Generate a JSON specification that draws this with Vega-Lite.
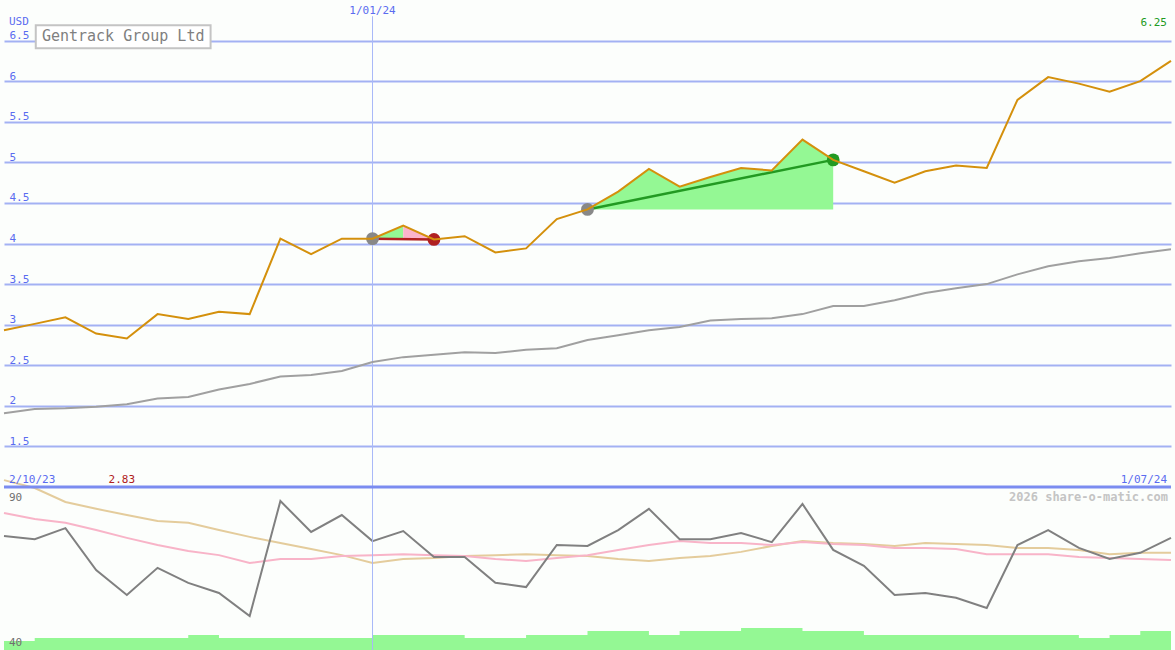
{
  "$schema": "https://vega.github.io/schema/vega-lite/v6.json",
  "width": 1175,
  "height": 650,
  "padding": 0,
  "autosize": {"type": "fit", "contains": "padding"},
  "background": "#fcfefc",
  "config": {"view": {"stroke": null}},
  "resolve": {"scale": {"y": "independent"}},
  "datasets": {
    "w": [
      {"d": "2023-10-09", "price": 2.93, "ma": 1.91, "osc": 75.0, "sig1": 82.0, "sig2": 92.1, "vol": 9},
      {"d": "2023-10-16", "price": 3.01, "ma": 1.96, "osc": 74.0, "sig1": 80.2, "sig2": 89.7, "vol": 12},
      {"d": "2023-10-23", "price": 3.09, "ma": 1.97, "osc": 77.4, "sig1": 79.0, "sig2": 85.4, "vol": 12},
      {"d": "2023-10-30", "price": 2.89, "ma": 1.99, "osc": 64.5, "sig1": 76.8, "sig2": 83.3, "vol": 12},
      {"d": "2023-11-06", "price": 2.83, "ma": 2.02, "osc": 56.9, "sig1": 74.4, "sig2": 81.4, "vol": 12},
      {"d": "2023-11-13", "price": 3.13, "ma": 2.09, "osc": 65.2, "sig1": 72.2, "sig2": 79.6, "vol": 12},
      {"d": "2023-11-20", "price": 3.07, "ma": 2.11, "osc": 60.6, "sig1": 70.4, "sig2": 79.0, "vol": 15},
      {"d": "2023-11-27", "price": 3.16, "ma": 2.20, "osc": 57.5, "sig1": 69.1, "sig2": 76.8, "vol": 12},
      {"d": "2023-12-04", "price": 3.13, "ma": 2.27, "osc": 50.4, "sig1": 66.7, "sig2": 74.7, "vol": 12},
      {"d": "2023-12-11", "price": 4.06, "ma": 2.36, "osc": 85.7, "sig1": 67.9, "sig2": 72.8, "vol": 12},
      {"d": "2023-12-18", "price": 3.87, "ma": 2.38, "osc": 76.2, "sig1": 67.9, "sig2": 71.0, "vol": 12},
      {"d": "2023-12-25", "price": 4.06, "ma": 2.43, "osc": 81.4, "sig1": 68.8, "sig2": 69.1, "vol": 12},
      {"d": "2024-01-01", "price": 4.06, "ma": 2.54, "osc": 73.4, "sig1": 69.1, "sig2": 66.7, "vol": 15},
      {"d": "2024-01-08", "price": 4.22, "ma": 2.60, "osc": 76.5, "sig1": 69.4, "sig2": 67.9, "vol": 15},
      {"d": "2024-01-15", "price": 4.05, "ma": 2.63, "osc": 68.5, "sig1": 69.1, "sig2": 68.2, "vol": 15},
      {"d": "2024-01-22", "price": 4.09, "ma": 2.66, "osc": 68.5, "sig1": 68.8, "sig2": 68.8, "vol": 12},
      {"d": "2024-01-29", "price": 3.89, "ma": 2.65, "osc": 60.6, "sig1": 67.9, "sig2": 69.1, "vol": 12},
      {"d": "2024-02-05", "price": 3.94, "ma": 2.69, "osc": 59.3, "sig1": 67.3, "sig2": 69.4, "vol": 15},
      {"d": "2024-02-12", "price": 4.30, "ma": 2.71, "osc": 72.2, "sig1": 68.2, "sig2": 69.1, "vol": 15},
      {"d": "2024-02-19", "price": 4.42, "ma": 2.81, "osc": 71.9, "sig1": 69.1, "sig2": 68.8, "vol": 19},
      {"d": "2024-02-26", "price": 4.64, "ma": 2.87, "osc": 76.8, "sig1": 70.7, "sig2": 67.9, "vol": 19},
      {"d": "2024-03-04", "price": 4.92, "ma": 2.93, "osc": 83.3, "sig1": 72.2, "sig2": 67.3, "vol": 15},
      {"d": "2024-03-11", "price": 4.70, "ma": 2.97, "osc": 74.0, "sig1": 73.4, "sig2": 68.2, "vol": 19},
      {"d": "2024-03-18", "price": 4.82, "ma": 3.05, "osc": 74.0, "sig1": 72.8, "sig2": 68.8, "vol": 19},
      {"d": "2024-03-25", "price": 4.93, "ma": 3.07, "osc": 75.9, "sig1": 72.8, "sig2": 70.1, "vol": 22},
      {"d": "2024-04-01", "price": 4.90, "ma": 3.08, "osc": 73.1, "sig1": 72.2, "sig2": 71.9, "vol": 22},
      {"d": "2024-04-08", "price": 5.28, "ma": 3.13, "osc": 84.8, "sig1": 73.1, "sig2": 73.4, "vol": 19},
      {"d": "2024-04-15", "price": 5.03, "ma": 3.23, "osc": 70.7, "sig1": 72.5, "sig2": 72.8, "vol": 19},
      {"d": "2024-04-22", "price": 4.89, "ma": 3.23, "osc": 65.8, "sig1": 72.2, "sig2": 72.5, "vol": 15},
      {"d": "2024-04-29", "price": 4.75, "ma": 3.30, "osc": 56.9, "sig1": 71.3, "sig2": 71.9, "vol": 15},
      {"d": "2024-05-06", "price": 4.89, "ma": 3.39, "osc": 57.5, "sig1": 71.3, "sig2": 72.8, "vol": 15},
      {"d": "2024-05-13", "price": 4.96, "ma": 3.45, "osc": 56.0, "sig1": 71.0, "sig2": 72.5, "vol": 15},
      {"d": "2024-05-20", "price": 4.93, "ma": 3.50, "osc": 52.9, "sig1": 69.4, "sig2": 72.2, "vol": 15},
      {"d": "2024-05-27", "price": 5.77, "ma": 3.62, "osc": 72.2, "sig1": 69.4, "sig2": 71.3, "vol": 15},
      {"d": "2024-06-03", "price": 6.05, "ma": 3.72, "osc": 76.8, "sig1": 69.4, "sig2": 71.3, "vol": 15},
      {"d": "2024-06-10", "price": 5.97, "ma": 3.78, "osc": 71.3, "sig1": 68.5, "sig2": 70.7, "vol": 12},
      {"d": "2024-06-17", "price": 5.87, "ma": 3.82, "osc": 67.9, "sig1": 68.2, "sig2": 69.4, "vol": 15},
      {"d": "2024-06-24", "price": 6.00, "ma": 3.88, "osc": 69.8, "sig1": 67.9, "sig2": 69.8, "vol": 19},
      {"d": "2024-07-01", "price": 6.25, "ma": 3.93, "osc": 74.4, "sig1": 67.6, "sig2": 69.8, "vol": 19}
    ],
    "tr": [
      {"d": "2024-01-01", "p": 4.06, "t": "loss"},
      {"d": "2024-01-15", "p": 4.05, "t": "loss"},
      {"d": "2024-02-19", "p": 4.42, "t": "gain"},
      {"d": "2024-04-15", "p": 5.03, "t": "gain"}
    ],
    "pts": [
      {"d": "2024-01-01", "p": 4.06, "k": "entry"},
      {"d": "2024-01-15", "p": 4.05, "k": "loss"},
      {"d": "2024-02-19", "p": 4.42, "k": "entry"},
      {"d": "2024-04-15", "p": 5.03, "k": "gain"}
    ],
    "one": [{}]
  },
  "layer": [
    {
      "data": {"name": "w"},
      "mark": {"type": "area", "interpolate": "step-after", "color": "#94f894"},
      "encoding": {
        "x": {"field": "d", "type": "temporal", "axis": null, "scale": {"type": "utc", "domain": [{"year": 2023, "month": 10, "date": 9, "utc": true}, {"year": 2024, "month": 7, "date": 1, "utc": true}]}},
        "y": {"field": "vol", "type": "quantitative", "axis": null, "scale": {"domain": [0, 163], "range": [650, 487], "nice": false, "zero": false}}
      }
    },
    {
      "data": {"name": "w"},
      "mark": {"type": "line", "color": "#e4cc9c", "strokeWidth": 2},
      "encoding": {
        "x": {"field": "d", "type": "temporal", "axis": null, "scale": {"type": "utc", "domain": [{"year": 2023, "month": 10, "date": 9, "utc": true}, {"year": 2024, "month": 7, "date": 1, "utc": true}]}},
        "y": {"field": "sig2", "type": "quantitative", "axis": null, "scale": {"domain": [40, 90], "range": [650, 487], "nice": false, "zero": false}}
      }
    },
    {
      "data": {"name": "w"},
      "mark": {"type": "line", "color": "#f8b4c8", "strokeWidth": 2},
      "encoding": {
        "x": {"field": "d", "type": "temporal", "axis": null, "scale": {"type": "utc", "domain": [{"year": 2023, "month": 10, "date": 9, "utc": true}, {"year": 2024, "month": 7, "date": 1, "utc": true}]}},
        "y": {"field": "sig1", "type": "quantitative", "axis": null, "scale": {"domain": [40, 90], "range": [650, 487], "nice": false, "zero": false}}
      }
    },
    {
      "data": {"name": "w"},
      "mark": {"type": "line", "color": "#808080", "strokeWidth": 2},
      "encoding": {
        "x": {"field": "d", "type": "temporal", "axis": null, "scale": {"type": "utc", "domain": [{"year": 2023, "month": 10, "date": 9, "utc": true}, {"year": 2024, "month": 7, "date": 1, "utc": true}]}},
        "y": {"field": "osc", "type": "quantitative", "axis": null, "scale": {"domain": [40, 90], "range": [650, 487], "nice": false, "zero": false}}
      }
    },
    {
      "data": {"name": "one"},
      "mark": {"type": "rule", "color": "#a8b8f8", "strokeWidth": 1},
      "encoding": {
        "x": {"datum": {"year": 2024, "month": 1, "date": 1, "utc": true}, "type": "temporal", "axis": null, "scale": {"type": "utc", "domain": [{"year": 2023, "month": 10, "date": 9, "utc": true}, {"year": 2024, "month": 7, "date": 1, "utc": true}]}},
        "y": {"datum": 6.8, "type": "quantitative", "axis": null, "scale": {"domain": [1, 7], "range": [487, 0], "nice": false, "zero": false}},
        "y2": {"datum": -1.01}
      }
    },
    {
      "data": {"name": "w"},
      "mark": {"type": "line", "color": "#a0a0a0", "strokeWidth": 2},
      "encoding": {
        "x": {"field": "d", "type": "temporal", "axis": null, "scale": {"type": "utc", "domain": [{"year": 2023, "month": 10, "date": 9, "utc": true}, {"year": 2024, "month": 7, "date": 1, "utc": true}]}},
        "y": {"field": "ma", "type": "quantitative", "scale": {"domain": [1, 7], "range": [487, 0], "nice": false, "zero": false},
          "axis": {"values": [1.5, 2, 2.5, 3, 3.5, 4, 4.5, 5, 5.5, 6, 6.5], "format": "~g", "grid": true, "gridColor": "#a3b1f3", "gridWidth": 2, "gridOpacity": 1, "ticks": false, "tickSize": 0, "domain": false, "title": null, "labelAlign": "left", "labelBaseline": "alphabetic", "labelOffset": -2, "labelPadding": -5, "labelColor": "#5a6cf0", "labelFont": "DejaVu Sans Mono", "labelFontSize": 11, "labelOverlap": false, "labelFlush": false}}
      }
    },
    {
      "data": {"name": "one"},
      "mark": {"type": "rule", "color": "#7b8cf0", "strokeWidth": 3},
      "encoding": {
        "y": {"datum": 1, "type": "quantitative", "axis": null, "scale": {"domain": [1, 7], "range": [487, 0], "nice": false, "zero": false}}
      }
    },
    {
      "data": {"name": "w"},
      "transform": [{"filter": {"field": "d", "range": [{"year": 2024, "month": 1, "date": 1, "utc": true}, {"year": 2024, "month": 1, "date": 8, "utc": true}]}}],
      "mark": {"type": "area", "color": "#94f894", "opacity": 1},
      "encoding": {
        "x": {"field": "d", "type": "temporal", "axis": null, "scale": {"type": "utc", "domain": [{"year": 2023, "month": 10, "date": 9, "utc": true}, {"year": 2024, "month": 7, "date": 1, "utc": true}]}},
        "y": {"field": "price", "type": "quantitative", "axis": null, "scale": {"domain": [1, 7], "range": [487, 0], "nice": false, "zero": false}},
        "y2": {"datum": 4.06}
      }
    },
    {
      "data": {"name": "w"},
      "transform": [{"filter": {"field": "d", "range": [{"year": 2024, "month": 1, "date": 8, "utc": true}, {"year": 2024, "month": 1, "date": 15, "utc": true}]}}],
      "mark": {"type": "area", "color": "#fbb4cc", "opacity": 1},
      "encoding": {
        "x": {"field": "d", "type": "temporal", "axis": null, "scale": {"type": "utc", "domain": [{"year": 2023, "month": 10, "date": 9, "utc": true}, {"year": 2024, "month": 7, "date": 1, "utc": true}]}},
        "y": {"field": "price", "type": "quantitative", "axis": null, "scale": {"domain": [1, 7], "range": [487, 0], "nice": false, "zero": false}},
        "y2": {"datum": 4.055}
      }
    },
    {
      "data": {"name": "w"},
      "transform": [{"filter": {"field": "d", "range": [{"year": 2024, "month": 2, "date": 19, "utc": true}, {"year": 2024, "month": 4, "date": 15, "utc": true}]}}],
      "mark": {"type": "area", "color": "#94f894", "opacity": 1},
      "encoding": {
        "x": {"field": "d", "type": "temporal", "axis": null, "scale": {"type": "utc", "domain": [{"year": 2023, "month": 10, "date": 9, "utc": true}, {"year": 2024, "month": 7, "date": 1, "utc": true}]}},
        "y": {"field": "price", "type": "quantitative", "axis": null, "scale": {"domain": [1, 7], "range": [487, 0], "nice": false, "zero": false}},
        "y2": {"datum": 4.42}
      }
    },
    {
      "data": {"name": "tr"},
      "mark": {"type": "line", "strokeWidth": 2.5},
      "encoding": {
        "x": {"field": "d", "type": "temporal", "axis": null, "scale": {"type": "utc", "domain": [{"year": 2023, "month": 10, "date": 9, "utc": true}, {"year": 2024, "month": 7, "date": 1, "utc": true}]}},
        "y": {"field": "p", "type": "quantitative", "axis": null, "scale": {"domain": [1, 7], "range": [487, 0], "nice": false, "zero": false}},
        "color": {"field": "t", "type": "nominal", "legend": null, "scale": {"domain": ["entry", "loss", "gain"], "range": ["#888888", "#b02020", "#229a22"]}}
      }
    },
    {
      "data": {"name": "pts"},
      "mark": {"type": "point", "filled": true, "opacity": 1, "size": 165, "shape": "circle"},
      "encoding": {
        "x": {"field": "d", "type": "temporal", "axis": null, "scale": {"type": "utc", "domain": [{"year": 2023, "month": 10, "date": 9, "utc": true}, {"year": 2024, "month": 7, "date": 1, "utc": true}]}},
        "y": {"field": "p", "type": "quantitative", "axis": null, "scale": {"domain": [1, 7], "range": [487, 0], "nice": false, "zero": false}},
        "color": {"field": "k", "type": "nominal", "legend": null, "scale": {"domain": ["entry", "loss", "gain"], "range": ["#888888", "#b02020", "#229a22"]}}
      }
    },
    {
      "data": {"name": "w"},
      "mark": {"type": "line", "color": "#d4900c", "strokeWidth": 2},
      "encoding": {
        "x": {"field": "d", "type": "temporal", "axis": null, "scale": {"type": "utc", "domain": [{"year": 2023, "month": 10, "date": 9, "utc": true}, {"year": 2024, "month": 7, "date": 1, "utc": true}]}},
        "y": {"field": "price", "type": "quantitative", "axis": null, "scale": {"domain": [1, 7], "range": [487, 0], "nice": false, "zero": false}}
      }
    },
    {
      "data": {"name": "one"},
      "mark": {"type": "rect", "fill": "#ffffff", "stroke": "#c4c4c4", "strokeWidth": 2},
      "encoding": {
        "x": {"datum": {"year": 2023, "month": 10, "date": 16, "hours": 5, "minutes": 48, "utc": true}, "type": "temporal", "axis": null, "scale": {"type": "utc", "domain": [{"year": 2023, "month": 10, "date": 9, "utc": true}, {"year": 2024, "month": 7, "date": 1, "utc": true}]}},
        "x2": {"datum": {"year": 2023, "month": 11, "date": 25, "hours": 2, "minutes": 10, "utc": true}},
        "y": {"datum": 6.69, "type": "quantitative", "axis": null, "scale": {"domain": [1, 7], "range": [487, 0], "nice": false, "zero": false}},
        "y2": {"datum": 6.405}
      }
    },
    {
      "data": {"name": "one"},
      "mark": {"type": "text", "font": "DejaVu Sans Mono", "fontSize": 15, "color": "#808080", "align": "center", "baseline": "alphabetic"},
      "encoding": {
        "x": {"datum": {"year": 2023, "month": 11, "date": 5, "hours": 4, "utc": true}, "type": "temporal", "axis": null, "scale": {"type": "utc", "domain": [{"year": 2023, "month": 10, "date": 9, "utc": true}, {"year": 2024, "month": 7, "date": 1, "utc": true}]}},
        "y": {"datum": 6.495, "type": "quantitative", "axis": null, "scale": {"domain": [1, 7], "range": [487, 0], "nice": false, "zero": false}},
        "text": {"value": "Gentrack Group Ltd"}
      }
    },
    {
      "data": {"name": "one"},
      "mark": {"type": "text", "font": "DejaVu Sans Mono", "fontSize": 11, "color": "#5a6cf0", "align": "left", "baseline": "alphabetic", "dx": 5},
      "encoding": {
        "x": {"datum": {"year": 2023, "month": 10, "date": 9, "utc": true}, "type": "temporal", "axis": null, "scale": {"type": "utc", "domain": [{"year": 2023, "month": 10, "date": 9, "utc": true}, {"year": 2024, "month": 7, "date": 1, "utc": true}]}},
        "y": {"datum": 6.692, "type": "quantitative", "axis": null, "scale": {"domain": [1, 7], "range": [487, 0], "nice": false, "zero": false}},
        "text": {"value": "USD"}
      }
    },
    {
      "data": {"name": "one"},
      "mark": {"type": "text", "font": "DejaVu Sans Mono", "fontSize": 11, "color": "#5a6cf0", "align": "center", "baseline": "alphabetic"},
      "encoding": {
        "x": {"datum": {"year": 2024, "month": 1, "date": 1, "utc": true}, "type": "temporal", "axis": null, "scale": {"type": "utc", "domain": [{"year": 2023, "month": 10, "date": 9, "utc": true}, {"year": 2024, "month": 7, "date": 1, "utc": true}]}},
        "y": {"datum": 6.827, "type": "quantitative", "axis": null, "scale": {"domain": [1, 7], "range": [487, 0], "nice": false, "zero": false}},
        "text": {"value": "1/01/24"}
      }
    },
    {
      "data": {"name": "one"},
      "mark": {"type": "text", "font": "DejaVu Sans Mono", "fontSize": 11, "color": "#229a22", "align": "right", "baseline": "alphabetic", "dx": -4},
      "encoding": {
        "x": {"datum": {"year": 2024, "month": 7, "date": 1, "utc": true}, "type": "temporal", "axis": null, "scale": {"type": "utc", "domain": [{"year": 2023, "month": 10, "date": 9, "utc": true}, {"year": 2024, "month": 7, "date": 1, "utc": true}]}},
        "y": {"datum": 6.68, "type": "quantitative", "axis": null, "scale": {"domain": [1, 7], "range": [487, 0], "nice": false, "zero": false}},
        "text": {"value": "6.25"}
      }
    },
    {
      "data": {"name": "one"},
      "mark": {"type": "text", "font": "DejaVu Sans Mono", "fontSize": 11, "color": "#5a6cf0", "align": "left", "baseline": "alphabetic", "dx": 5},
      "encoding": {
        "x": {"datum": {"year": 2023, "month": 10, "date": 9, "utc": true}, "type": "temporal", "axis": null, "scale": {"type": "utc", "domain": [{"year": 2023, "month": 10, "date": 9, "utc": true}, {"year": 2024, "month": 7, "date": 1, "utc": true}]}},
        "y": {"datum": 1.049, "type": "quantitative", "axis": null, "scale": {"domain": [1, 7], "range": [487, 0], "nice": false, "zero": false}},
        "text": {"value": "2/10/23"}
      }
    },
    {
      "data": {"name": "one"},
      "mark": {"type": "text", "font": "DejaVu Sans Mono", "fontSize": 11, "color": "#b02020", "align": "center", "baseline": "alphabetic", "dx": -5},
      "encoding": {
        "x": {"datum": {"year": 2023, "month": 11, "date": 6, "utc": true}, "type": "temporal", "axis": null, "scale": {"type": "utc", "domain": [{"year": 2023, "month": 10, "date": 9, "utc": true}, {"year": 2024, "month": 7, "date": 1, "utc": true}]}},
        "y": {"datum": 1.049, "type": "quantitative", "axis": null, "scale": {"domain": [1, 7], "range": [487, 0], "nice": false, "zero": false}},
        "text": {"value": "2.83"}
      }
    },
    {
      "data": {"name": "one"},
      "mark": {"type": "text", "font": "DejaVu Sans Mono", "fontSize": 11, "color": "#5a6cf0", "align": "right", "baseline": "alphabetic", "dx": -4},
      "encoding": {
        "x": {"datum": {"year": 2024, "month": 7, "date": 1, "utc": true}, "type": "temporal", "axis": null, "scale": {"type": "utc", "domain": [{"year": 2023, "month": 10, "date": 9, "utc": true}, {"year": 2024, "month": 7, "date": 1, "utc": true}]}},
        "y": {"datum": 1.049, "type": "quantitative", "axis": null, "scale": {"domain": [1, 7], "range": [487, 0], "nice": false, "zero": false}},
        "text": {"value": "1/07/24"}
      }
    },
    {
      "data": {"name": "one"},
      "mark": {"type": "text", "font": "DejaVu Sans Mono", "fontSize": 12, "fontWeight": "bold", "color": "#c4c4c4", "align": "right", "baseline": "alphabetic", "dx": -3},
      "encoding": {
        "x": {"datum": {"year": 2024, "month": 7, "date": 1, "utc": true}, "type": "temporal", "axis": null, "scale": {"type": "utc", "domain": [{"year": 2023, "month": 10, "date": 9, "utc": true}, {"year": 2024, "month": 7, "date": 1, "utc": true}]}},
        "y": {"datum": 85.7, "type": "quantitative", "axis": null, "scale": {"domain": [40, 90], "range": [650, 487], "nice": false, "zero": false}},
        "text": {"value": "2026 share-o-matic.com"}
      }
    },
    {
      "data": {"name": "one"},
      "mark": {"type": "text", "font": "DejaVu Sans Mono", "fontSize": 11, "color": "#707070", "align": "left", "baseline": "alphabetic", "dx": 5},
      "encoding": {
        "x": {"datum": {"year": 2023, "month": 10, "date": 9, "utc": true}, "type": "temporal", "axis": null, "scale": {"type": "utc", "domain": [{"year": 2023, "month": 10, "date": 9, "utc": true}, {"year": 2024, "month": 7, "date": 1, "utc": true}]}},
        "y": {"datum": 85.7, "type": "quantitative", "axis": null, "scale": {"domain": [40, 90], "range": [650, 487], "nice": false, "zero": false}},
        "text": {"value": "90"}
      }
    },
    {
      "data": {"name": "one"},
      "mark": {"type": "text", "font": "DejaVu Sans Mono", "fontSize": 11, "color": "#707070", "align": "left", "baseline": "alphabetic", "dx": 5},
      "encoding": {
        "x": {"datum": {"year": 2023, "month": 10, "date": 9, "utc": true}, "type": "temporal", "axis": null, "scale": {"type": "utc", "domain": [{"year": 2023, "month": 10, "date": 9, "utc": true}, {"year": 2024, "month": 7, "date": 1, "utc": true}]}},
        "y": {"datum": 41.2, "type": "quantitative", "axis": null, "scale": {"domain": [40, 90], "range": [650, 487], "nice": false, "zero": false}},
        "text": {"value": "40"}
      }
    }
  ]
}
